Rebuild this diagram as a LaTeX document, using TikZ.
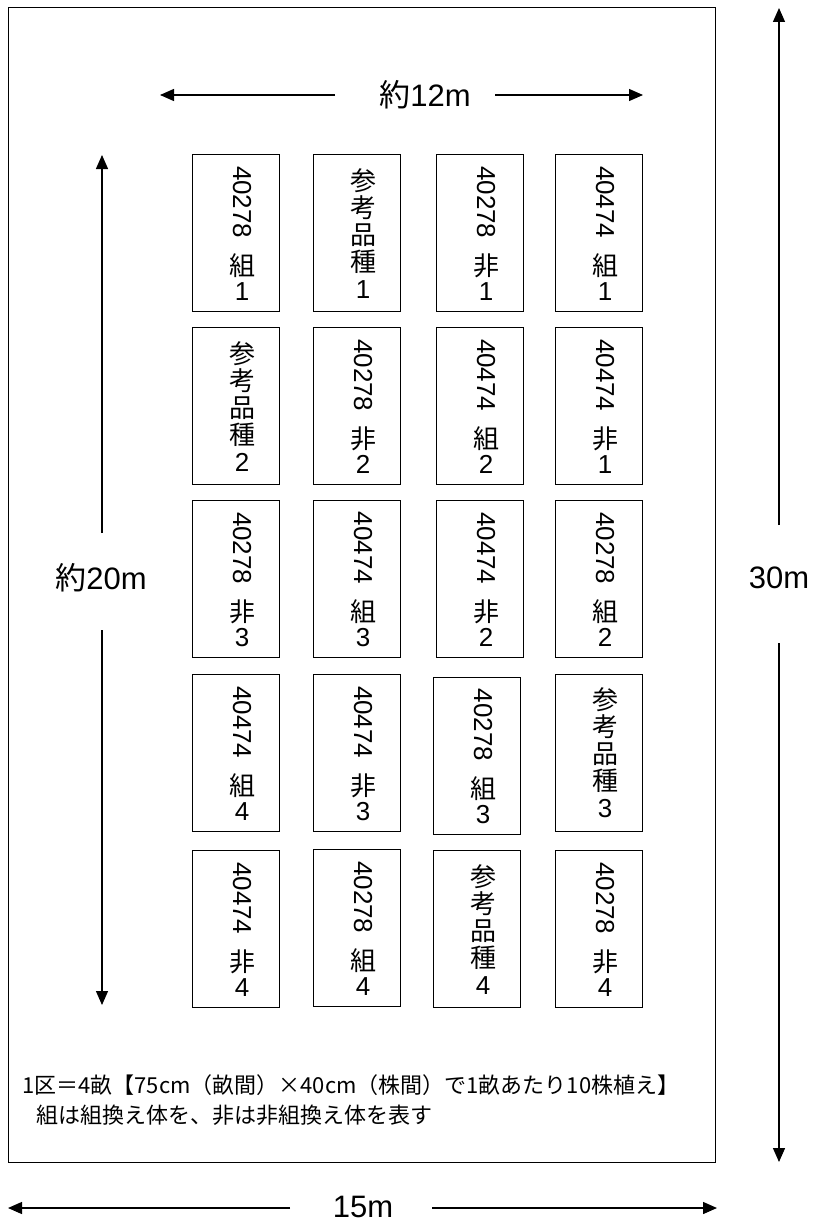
\documentclass[tikz,border=0pt]{standalone}
\usepackage{fontspec}
\setmainfont{Noto Sans CJK JP}
\newfontfamily\latinfont{Liberation Sans}
\usepackage{graphicx}
\usetikzlibrary{arrows.meta}
\newcommand\numcell[3]{\rotatebox{-90}{\latinfont #1}\\[14pt]#2\\[-2pt]{\latinfont #3}}
\newcommand\refcell[1]{参\\考\\品\\種\\{\latinfont #1}}
\newcommand\plotcell[4]{%
  \node[plotbox] (#1) at (#2,#3) {};
  \node[plottxt] (#1t) at ([xshift=6pt]#1.center) {#4};}
\begin{document}
\begin{tikzpicture}[x=1pt,y=-1pt,
  frame/.style={draw,line width=1.4pt,inner sep=0pt,anchor=north west},
  plotbox/.style={draw,line width=1.3pt,inner sep=0pt,anchor=north west,minimum width=87pt,minimum height=157pt},
  plottxt/.style={align=center,inner sep=0pt,font=\fontsize{26}{27}\selectfont},
  dimlabel/.style={inner sep=0pt,font=\fontsize{31}{36}\selectfont},
  note/.style={inner sep=0pt,anchor=west,font=\fontsize{22}{26}\selectfont},
  dim/.style={line width=1.3pt,-{Triangle[length=14pt,width=12pt]}}]
\useasboundingbox (0,0) rectangle (814,1223);
\fill[white] (0,0) rectangle (814,1223);
\node[frame,minimum width=707pt,minimum height=1155pt] (field) at (8,7) {};
% row 1
\plotcell{b11}{192}{154}{\numcell{40278}{組}{1}}
\plotcell{b12}{313}{154}{\refcell{1}}
\plotcell{b13}{436}{154}{\numcell{40278}{非}{1}}
\plotcell{b14}{555}{154}{\numcell{40474}{組}{1}}
% row 2
\plotcell{b21}{192}{327}{\refcell{2}}
\plotcell{b22}{313}{327}{\numcell{40278}{非}{2}}
\plotcell{b23}{436}{327}{\numcell{40474}{組}{2}}
\plotcell{b24}{555}{327}{\numcell{40474}{非}{1}}
% row 3
\plotcell{b31}{192}{500}{\numcell{40278}{非}{3}}
\plotcell{b32}{313}{500}{\numcell{40474}{組}{3}}
\plotcell{b33}{436}{500}{\numcell{40474}{非}{2}}
\plotcell{b34}{555}{500}{\numcell{40278}{組}{2}}
% row 4
\plotcell{b41}{192}{674}{\numcell{40474}{組}{4}}
\plotcell{b42}{313}{674}{\numcell{40474}{非}{3}}
\plotcell{b43}{433}{677}{\numcell{40278}{組}{3}}
\plotcell{b44}{555}{674}{\refcell{3}}
% row 5
\plotcell{b51}{192}{850}{\numcell{40474}{非}{4}}
\plotcell{b52}{313}{849}{\numcell{40278}{組}{4}}
\plotcell{b53}{433}{850}{\refcell{4}}
\plotcell{b54}{555}{850}{\numcell{40278}{非}{4}}
% dimension: about 12 m
\node[dimlabel] (w12) at (425,95) {約{\latinfont 12m}};
\coordinate (w12l) at (335,95); \coordinate (w12lt) at (160,95);
\coordinate (w12r) at (495,95); \coordinate (w12rt) at (643,95);
\draw[dim] (w12l) -- (w12lt);
\draw[dim] (w12r) -- (w12rt);
% dimension: about 20 m
\node[dimlabel] (h20) at (101,578) {約{\latinfont 20m}};
\coordinate (h20u) at (102,533); \coordinate (h20ut) at (102,155);
\coordinate (h20d) at (102,630); \coordinate (h20dt) at (102,1005);
\draw[dim] (h20u) -- (h20ut);
\draw[dim] (h20d) -- (h20dt);
% dimension: 30 m
\node[dimlabel,font=\fontsize{31}{36}\latinfont] (h30) at (779,578) {30m};
\coordinate (h30u) at (779,525); \coordinate (h30ut) at (779,8);
\coordinate (h30d) at (779,643); \coordinate (h30dt) at (779,1162);
\draw[dim] (h30u) -- (h30ut);
\draw[dim] (h30d) -- (h30dt);
% dimension: 15 m
\node[dimlabel,font=\fontsize{31}{36}\latinfont] (w15) at (363,1207) {15m};
\coordinate (w15l) at (290,1208); \coordinate (w15lt) at (8,1208);
\coordinate (w15r) at (432,1208); \coordinate (w15rt) at (717,1208);
\draw[dim] (w15l) -- (w15lt);
\draw[dim] (w15r) -- (w15rt);
% notes
\node[note] (n1) at (22,1085) {1区＝4畝【75cm（畝間）×40cm（株間）で1畝あたり10株植え】};
\node[note] (n2) at (36,1115) {組は組換え体を、非は非組換え体を表す};
\end{tikzpicture}
\end{document}
